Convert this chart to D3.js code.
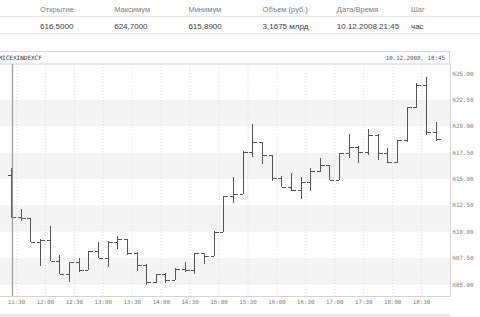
<!DOCTYPE html>
<html lang="ru">
<head>
  <meta charset="UTF-8">
  <title>MICEXINDEXCF</title>
  <script src="https://d3js.org/d3.v7.min.js"></script>
  <style>
    body { margin: 0; background: #fff; }
    svg { display: block; }
  </style>
</head>
<body>
<svg id="chart"></svg>
<script>
  // 10-minute bars, 10.12.2008
  const times = ["11:20", "11:30", "11:40", "11:50", "12:00", "12:10", "12:20", "12:30", "12:40", "12:50",
    "13:00", "13:10", "13:20", "13:30", "13:40", "13:50", "14:00", "14:10", "14:20", "14:30",
    "14:40", "14:50", "15:00", "15:10", "15:20", "15:30", "15:40", "15:50", "16:00", "16:10",
    "16:20", "16:30", "16:40", "16:50", "17:00", "17:10", "17:20", "17:30", "17:40", "17:50",
    "18:00", "18:10", "18:20", "18:30", "18:40"];
  const open = [615.4, 611.4, 611.3, 609.05, 609.2, 607.25, 606.0, 607.1, 606.4, 608.2,
    607.5, 609.05, 609.3, 607.95, 606.85, 605.25, 605.95, 605.45, 606.45, 606.35,
    607.95, 607.7, 610.0, 613.4, 613.6, 617.6, 618.5, 617.25, 615.05, 614.25,
    613.95, 614.75, 615.8, 616.3, 614.9, 617.45, 618.0, 617.6, 619.2, 617.45,
    616.6, 618.65, 621.85, 623.9, 619.45];
  const high = [616.0, 612.2, 611.3, 609.3, 610.55, 607.8, 607.1, 607.5, 608.2, 609.0,
    609.1, 609.6, 609.3, 608.05, 606.9, 606.0, 606.05, 606.6, 607.1, 608.0,
    608.0, 610.05, 613.4, 615.2, 617.65, 620.25, 618.5, 617.3, 615.3, 615.55,
    615.2, 616.0, 616.95, 616.3, 617.45, 619.3, 618.1, 619.75, 619.3, 617.9,
    618.7, 621.85, 624.1, 624.7, 620.45];
  const low = [611.3, 611.05, 609.05, 606.8, 607.25, 606.0, 605.25, 606.2, 606.4, 607.5,
    606.65, 608.35, 607.8, 606.25, 604.95, 605.1, 605.1, 605.4, 606.15, 605.95,
    606.95, 607.7, 610.0, 612.7, 613.6, 617.1, 616.4, 614.85, 614.2, 613.9,
    613.1, 613.9, 615.7, 614.9, 614.9, 616.95, 616.5, 617.3, 616.8, 616.5,
    616.5, 618.5, 621.7, 619.15, 618.6];
  const close = [611.4, 611.3, 609.05, 609.2, 607.25, 606.0, 607.1, 606.4, 608.2, 607.5,
    609.05, 609.3, 607.95, 606.85, 605.25, 605.95, 605.45, 606.45, 606.35, 607.95,
    607.7, 610.0, 613.4, 613.6, 617.6, 618.5, 617.25, 615.05, 614.25, 613.95,
    614.75, 615.8, 616.3, 614.9, 617.45, 618.0, 617.6, 619.2, 617.45, 616.6,
    618.65, 621.85, 623.9, 619.45, 618.75];

  const yTicks = [605, 607.5, 610, 612.5, 615, 617.5, 620, 622.5, 625];
  const xTicks = ["11:30", "12:00", "12:30", "13:00", "13:30", "14:00", "14:30", "15:00",
    "15:30", "16:00", "16:30", "17:00", "17:30", "18:00", "18:30"];

  const headerLabels = ["Открытие", "Максимум", "Минимум", "Объем (руб.)", "Дата/Время", "Шаг"];
  const headerValues = ["616,5000", "624,7000", "615,8900", "3,1675 млрд", "10.12.2008 21:45", "час"];
  const symbol = "MICEXINDEXCF";
  const stamp = "10.12.2008, 18:45";

  const W = 480, H = 317;
  const plot = { left: 0, right: 450, top: 64, bottom: 296 };
  const barMinutes = 10;

  const parse = s => {
    const [h, m] = s.split(":").map(Number);
    return new Date(2008, 11, 10, h, m);
  };

  const bars = times.map((t, i) => ({
    t: new Date(parse(t).getTime() + barMinutes / 2 * 60000),
    o: open[i], h: high[i], l: low[i], c: close[i]
  }));

  const svg = d3.select("#chart").attr("width", W).attr("height", H);

  // top info table
  const col = d3.scalePoint().domain(headerLabels).range([40, 411]);
  svg.append("g").selectAll("line")
    .data([16.5, 33.5])
    .join("line")
    .attr("x1", 0).attr("x2", W)
    .attr("y1", d => d).attr("y2", d => d)
    .attr("stroke", "#e2e2e2");
  svg.append("g").selectAll("text")
    .data(headerLabels)
    .join("text")
    .attr("x", d => col(d)).attr("y", 12)
    .style("font", "7.5px 'Liberation Sans', Arial, sans-serif")
    .attr("fill", "#808080")
    .text(d => d);
  svg.append("g").selectAll("text")
    .data(headerValues)
    .join("text")
    .attr("x", (d, i) => col(headerLabels[i])).attr("y", 28.5)
    .style("font", "8px 'Liberation Sans', Arial, sans-serif")
    .attr("fill", "#3a3a3a")
    .text(d => d);

  // scales
  const x = d3.scaleTime()
    .domain([new Date(2008, 11, 10, 11, 13, 24), new Date(2008, 11, 10, 19, 0)])
    .range([plot.left, plot.right]);
  const y = d3.scaleLinear().domain([605, 625]).range([284.5, 73.5]);

  // chart title strip
  svg.append("rect")
    .attr("x", -1).attr("y", 51.5)
    .attr("width", plot.right + 0.5).attr("height", plot.top - 51.5)
    .attr("fill", "#fff").attr("stroke", "#d4d4d4");
  svg.append("text")
    .attr("x", -1.5).attr("y", 60)
    .style("font", "6px 'DejaVu Sans Mono', monospace")
    .attr("fill", "#333")
    .text(symbol);
  svg.append("text")
    .attr("x", plot.right - 5).attr("y", 60)
    .attr("text-anchor", "end")
    .style("font", "5.8px 'DejaVu Sans Mono', monospace")
    .attr("fill", "#555")
    .text(stamp);

  // alternating bands
  const bands = yTicks.slice(0, -1).filter((d, i) => i % 2 === 0);
  svg.append("g").selectAll("rect")
    .data(bands)
    .join("rect")
    .attr("x", plot.left)
    .attr("width", plot.right - plot.left)
    .attr("y", d => y(yTicks[yTicks.indexOf(d) + 1]))
    .attr("height", d => y(d) - y(yTicks[yTicks.indexOf(d) + 1]))
    .attr("fill", "#f4f4f4");

  // vertical grid
  svg.append("g").selectAll("line")
    .data(xTicks.map(parse))
    .join("line")
    .attr("x1", d => x(d) + 0.5).attr("x2", d => x(d) + 0.5)
    .attr("y1", plot.top).attr("y2", plot.bottom)
    .attr("stroke", "#e0e0e0")
    .attr("stroke-dasharray", "1,2");

  // frame
  svg.append("line")
    .attr("x1", plot.right + 0.5).attr("x2", plot.right + 0.5)
    .attr("y1", plot.top).attr("y2", plot.bottom)
    .attr("stroke", "#d4d4d4");
  svg.append("line")
    .attr("x1", plot.left).attr("x2", plot.right + 0.5)
    .attr("y1", plot.bottom + 0.5).attr("y2", plot.bottom + 0.5)
    .attr("stroke", "#d4d4d4");

  // OHLC bars
  const tick = 3.5;
  const g = svg.append("g")
    .attr("stroke", "#555")
    .attr("stroke-width", 1)
    .attr("shape-rendering", "crispEdges");
  const bar = g.selectAll("g").data(bars).join("g");
  bar.append("line")
    .attr("x1", d => Math.round(x(d.t)) + 0.5).attr("x2", d => Math.round(x(d.t)) + 0.5)
    .attr("y1", d => y(d.h)).attr("y2", d => y(d.l));
  bar.append("line")
    .attr("x1", d => Math.round(x(d.t)) - tick).attr("x2", d => Math.round(x(d.t)))
    .attr("y1", d => Math.round(y(d.o)) + 0.5).attr("y2", d => Math.round(y(d.o)) + 0.5);
  bar.append("line")
    .attr("x1", d => Math.round(x(d.t)) + 1).attr("x2", d => Math.round(x(d.t)) + 1 + tick)
    .attr("y1", d => Math.round(y(d.c)) + 0.5).attr("y2", d => Math.round(y(d.c)) + 0.5);

  // cursor line on the first bar
  svg.append("line")
    .attr("x1", Math.round(x(bars[0].t)) + 1.5).attr("x2", Math.round(x(bars[0].t)) + 1.5)
    .attr("y1", plot.top).attr("y2", plot.bottom)
    .attr("stroke", "#9a9a9a").attr("stroke-width", 1.2);

  // y axis labels
  svg.append("g").selectAll("text")
    .data(yTicks)
    .join("text")
    .attr("x", plot.right + 2.5)
    .attr("y", d => y(d) + 2)
    .style("font", "5.8px 'DejaVu Sans Mono', monospace")
    .attr("fill", "#808080")
    .text(d3.format(".2f"));

  // x axis labels
  svg.append("g").selectAll("text")
    .data(xTicks.map(parse))
    .join("text")
    .attr("x", d => x(d) + 0.5)
    .attr("y", plot.bottom + 8)
    .attr("text-anchor", "middle")
    .style("font", "5.8px 'DejaVu Sans Mono', monospace")
    .attr("fill", "#808080")
    .text(d3.timeFormat("%H:%M"));

  // bottom strip
  svg.append("rect")
    .attr("x", 0).attr("y", 314)
    .attr("width", plot.right).attr("height", H - 314)
    .attr("fill", "#e8e8e8");
</script>
</body>
</html>
